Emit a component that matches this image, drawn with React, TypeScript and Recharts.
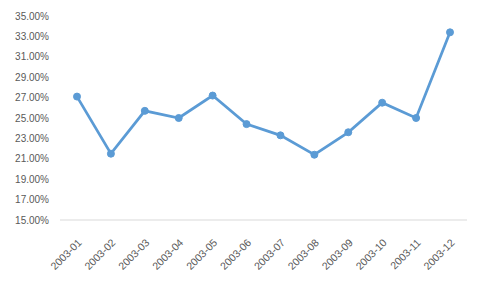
import React from "react";
import { LineChart, Line, XAxis, YAxis } from "recharts";

const months = [
  "2003-01", "2003-02", "2003-03", "2003-04", "2003-05", "2003-06",
  "2003-07", "2003-08", "2003-09", "2003-10", "2003-11", "2003-12",
];
const rates = [27.1, 21.5, 25.7, 25.0, 27.2, 24.4, 23.3, 21.4, 23.6, 26.5, 25.0, 33.4];
const yTicks = [15, 17, 19, 21, 23, 25, 27, 29, 31, 33, 35];

const data = months.map((m, i) => ({ month: m, rate: rates[i] }));

const font = { fontFamily: "'Liberation Sans', Arial, sans-serif", fontSize: 10, fill: "#595959" };

export default function App() {
  return (
    <div style={{ position: "fixed", left: 0, top: 0, background: "#fff" }}>
      <LineChart
        width={481}
        height={285}
        data={data}
        margin={{ top: 16, right: 14, bottom: 0, left: 0 }}
      >
        <XAxis
          dataKey="month"
          height={65}
          tickLine={false}
          axisLine={{ stroke: "#D9D9D9" }}
          interval={0}
          angle={-45}
          textAnchor="end"
          tickMargin={12}
          padding={{ left: 17, right: 17 }}
          tick={{ ...font, fontSize: 10.5 }}
        />
        <YAxis
          width={60}
          domain={[15, 35]}
          ticks={yTicks}
          axisLine={false}
          tickLine={false}
          tickMargin={5}
          tick={font}
          tickFormatter={(v: number) => v.toFixed(2) + "%"}
        />
        <Line
          type="linear"
          dataKey="rate"
          stroke="#5B9BD5"
          strokeWidth={2.75}
          dot={{ r: 3.5, fill: "#5B9BD5", stroke: "#5B9BD5", strokeWidth: 1 }}
          isAnimationActive={false}
        />
      </LineChart>
    </div>
  );
}
